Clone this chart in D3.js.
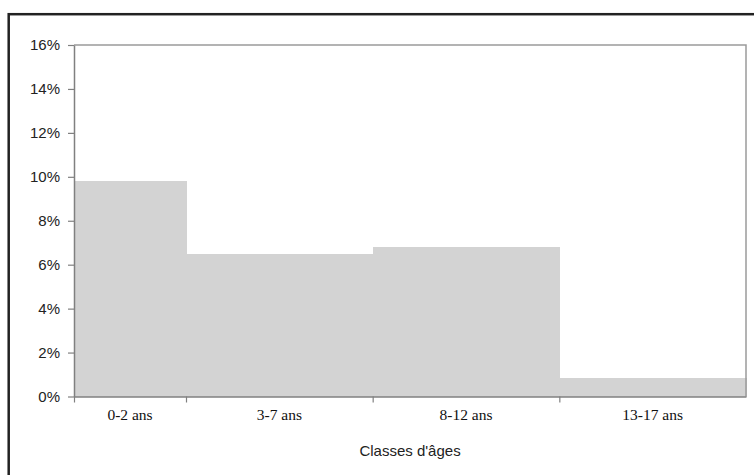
<!DOCTYPE html>
<html>
<head>
<meta charset="utf-8">
<script src="https://cdn.jsdelivr.net/npm/d3@7"></script>
<style>
  html, body { margin: 0; padding: 0; background: #fff; }
  svg { display: block; }
</style>
</head>
<body>
<svg id="chart" width="754" height="475"></svg>
<script>
// Data
const categories = ["0-2 ans", "3-7 ans", "8-12 ans", "13-17 ans"];
const classStart = [0, 3, 8, 13];
const classEnd = [3, 8, 13, 18];
const values = [9.8, 6.5, 6.8, 0.85];
const yTicks = [0, 2, 4, 6, 8, 10, 12, 14, 16];
const xTicks = [0, 3, 8, 13];
const xTitle = "Classes d'âges";

(function () {
const svg = d3.select("#chart");
const W = 754, H = 475;
const mLeft = 74, mRight = 746, mTop = 45, mBottom = 396.5;

const x = d3.scaleLinear().domain([0, 18]).range([mLeft, mRight]);
const y = d3.scaleLinear().domain([0, 16]).range([mBottom, mTop]);

// outer frame (extends past right and bottom edges)
svg.append("rect")
  .attr("x", 8.7).attr("y", 14.2)
  .attr("width", W + 20).attr("height", H + 20)
  .attr("fill", "#fff").attr("stroke", "#222").attr("stroke-width", 2.5);

// bars
const data = categories.map((c, i) => ({ c, s: classStart[i], e: classEnd[i], v: values[i] }));
svg.append("g").attr("shape-rendering", "crispEdges")
  .selectAll("rect").data(data).join("rect")
  .attr("x", d => x(d.s))
  .attr("width", d => x(d.e) - x(d.s) + 0.5)
  .attr("y", d => y(d.v))
  .attr("height", d => y(0) - y(d.v))
  .attr("fill", "#d3d3d3");

// plot frame top & right
svg.append("path")
  .attr("d", `M${mLeft},${mTop}H${mRight}V${mBottom}`)
  .attr("fill", "none").attr("stroke", "#9a9a9a").attr("stroke-width", 1.5);

// y axis
const yAxis = svg.append("g")
  .attr("transform", `translate(${mLeft},0)`)
  .call(d3.axisLeft(y).tickValues(yTicks).tickFormat(d => d + "%").tickSize(6).tickSizeOuter(0).tickPadding(8));
yAxis.select(".domain").attr("stroke", "#808080").attr("stroke-width", 1.5);
yAxis.selectAll(".tick line").attr("stroke", "#808080").attr("stroke-width", 1.2);
yAxis.selectAll(".tick text")
  .attr("fill", "#222").style("font-family", "'Liberation Sans', Arial, sans-serif").style("font-size", "15px");

// x axis
const xAxis = svg.append("g")
  .attr("transform", `translate(0,${mBottom})`)
  .call(d3.axisBottom(x).tickValues(xTicks).tickFormat("").tickSize(6).tickSizeOuter(0));
xAxis.select(".domain").attr("stroke", "#808080").attr("stroke-width", 1.5);
xAxis.selectAll(".tick line").attr("stroke", "#808080").attr("stroke-width", 1.2);

// category labels
svg.append("g").selectAll("text").data(data).join("text")
  .attr("x", d => x((d.s + d.e) / 2))
  .attr("y", 420)
  .attr("text-anchor", "middle")
  .attr("fill", "#111")
  .style("font-family", "'Liberation Serif', 'Times New Roman', serif")
  .style("font-size", "15.5px")
  .text(d => d.c);

// axis title
svg.append("text")
  .attr("x", (mLeft + mRight) / 2)
  .attr("y", 456)
  .attr("text-anchor", "middle")
  .attr("fill", "#222")
  .style("font-family", "'Liberation Sans', Arial, sans-serif")
  .style("font-size", "15px")
  .text(xTitle);
})();
</script>
</body>
</html>
